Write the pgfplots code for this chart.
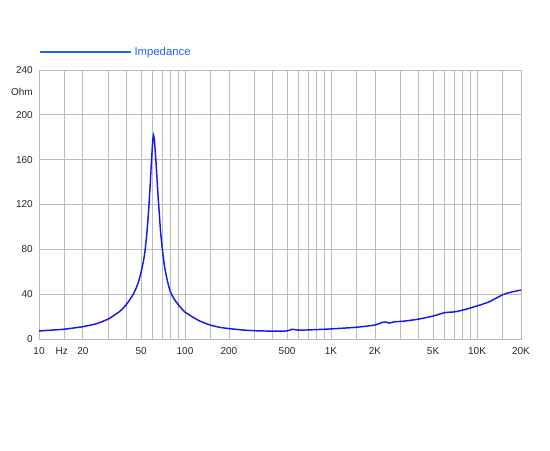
\documentclass[border=0pt]{standalone}
\usepackage{fontspec}
\setmainfont{Liberation Sans}
\usepackage{pgfplots}
\pgfplotsset{compat=1.18}

\definecolor{curveblue}{RGB}{25,25,235}
\definecolor{legblue}{RGB}{35,95,255}
\definecolor{gridgray}{RGB}{188,188,188}

\begin{document}
\begin{tikzpicture}
	\useasboundingbox (0,0) rectangle (412.5pt,337.5pt);
	\begin{axis}[
			at                = {(29.25pt,83.25pt)},
			anchor            = south west,
			scale only axis,
			width             = 361.5pt,
			height            = 201.75pt,
			xmode             = log,
			xmin              = 10,
			xmax              = 20000,
			ymin              = 0,
			ymax              = 240,
			xtick             = {10,15,20,30,40,50,60,70,80,90,100,150,200,300,400,500,600,700,800,900,1000,1500,2000,3000,4000,5000,6000,7000,8000,9000,10000,15000,20000},
			xticklabels       = {10,{},20,{},{},50,{},{},{},{},100,{},200,{},{},500,{},{},{},{},1K,{},2K,{},{},5K,{},{},{},{},10K,{},20K},
			extra x ticks     = {14.3},
			extra x tick labels = {Hz},
			extra x tick style  = {grid=none},
			ytick             = {0,40,80,120,160,200,240},
			yticklabels       = {0,40,80,120,160,200,240},
			extra y ticks     = {220},
			extra y tick labels = {Ohm},
			extra y tick style  = {grid=none},
			minor xtick       = {},
			major tick length = 0pt,
			grid              = major,
			grid style        = {gridgray, line width=0.7pt},
			axis line style   = {gridgray, line width=0.7pt},
			tick label style  = {font=\fontsize{7.5}{9}\selectfont, inner sep=0pt, text=black!85},
			xticklabel shift  = 6.5pt,
			yticklabel shift  = 4.5pt,
			legend style      = {
					at = {(axis description cs:0,1.067)},
					anchor = west,
					draw = none,
					fill = none,
					inner sep = 0pt,
					column sep = 2pt,
					nodes = {inner sep=0pt},
					font = \fontsize{8.5}{10}\selectfont,
					text = legblue,
				},
			legend image code/.code = {\draw[legblue, line width=1.2pt] (0pt,0pt) -- (68.25pt,0pt);},
		]

		\addplot [
			color      = curveblue,
			line width = 1.1pt,
			smooth,
			tension    = 0.4,
		] coordinates {
				(10,7.2) (12.5,8) (15,8.8) (20,11) (25,13.8) (30,18) (33,21.5)
				(36,25) (38,28) (40,31.5) (42,35.3) (44,39.5) (46,44.5) (48,51)
				(50,59.5) (52,70) (53,77) (54,86) (55,97) (56,110) (57,125)
				(58,142) (59,160) (60,175) (60.8,182) (61.6,178) (62.5,168)
				(63.5,155) (64.5,140) (65.5,126) (66.5,114) (68,96) (70,80)
				(72,67) (74,58) (77,48) (80,41) (85,35) (90,30.5) (95,27)
				(100,24) (110,20.5) (120,17.5) (130,15.3) (150,12.3) (175,10.3)
				(200,9.3) (250,8) (300,7.4) (400,7)
				(500,7.2) (540,8.7) (570,8.3) (600,7.9) (700,8.1) (800,8.4)
				(1000,9) (1500,10.5) (2000,12.5) (2200,14.5) (2350,15.2)
				(2500,14.2) (2700,15.3) (2900,15.6) (3200,16) (4000,17.8)
				(5000,20.5) (6000,23.5) (7000,24.2) (8000,25.8) (10000,29.5)
				(12000,33) (15000,39.5) (17000,41.7) (20000,43.7)
			};
		\addlegendentry{Impedance}
	\end{axis}
\end{tikzpicture}
\end{document}
